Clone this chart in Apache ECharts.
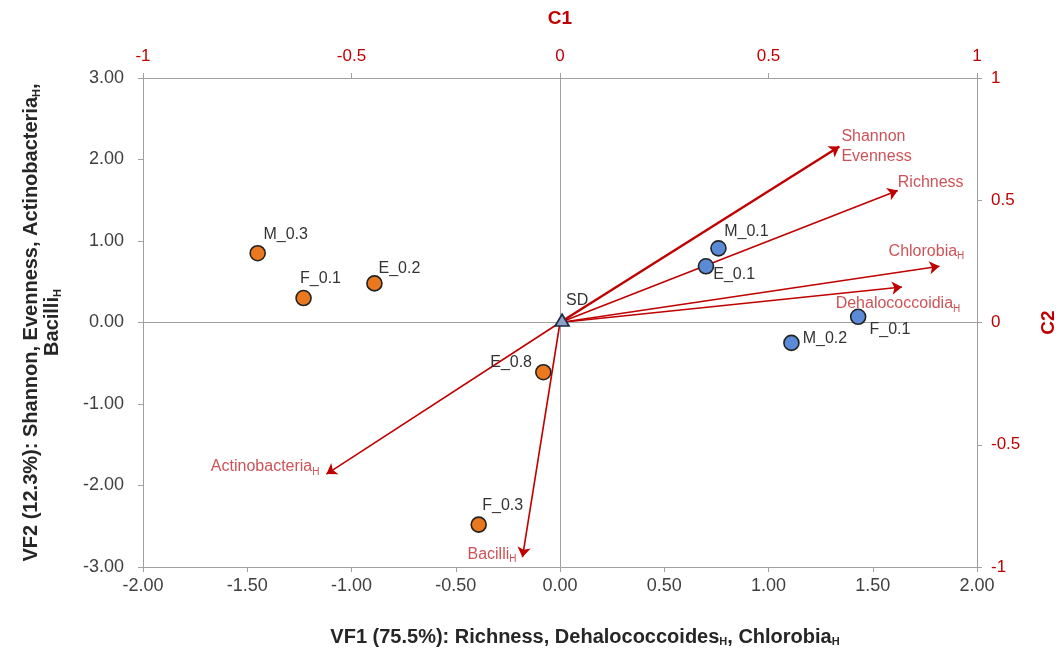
<!DOCTYPE html>
<html>
<head>
<meta charset="utf-8">
<script src="https://cdn.jsdelivr.net/npm/echarts@6/dist/echarts.min.js"></script>
<style>
  html, body { margin: 0; padding: 0; background: #fff; }
  #chart { width: 1061px; height: 655px; }
</style>
</head>
<body>
<div id="chart"></div>
<script>
// samples in VF1 / VF2 space
const orangeNames = ['M_0.3', 'F_0.1', 'E_0.2', 'E_0.8', 'F_0.3']
const orangeVF1 = [-1.45, -1.23, -0.89, -0.08, -0.39]
const orangeVF2 = [0.85, 0.30, 0.48, -0.61, -2.48]

const blueNames = ['M_0.1', 'E_0.1', 'M_0.2', 'F_0.1']
const blueVF1 = [0.76, 0.70, 1.11, 1.43]
const blueVF2 = [0.91, 0.69, -0.25, 0.07]

const sdName = 'SD'
const sdVF1 = 0.01
const sdVF2 = 0.03

// variable loadings in C1 / C2 space
const varNames = ['Shannon\nEvenness', 'Richness', 'Chlorobia{sub|H}', 'Dehalococcoidia{sub|H}', 'Actinobacteria{sub|H}', 'Bacilli{sub|H}']
const varC1 = [0.67, 0.81, 0.91, 0.82, -0.56, -0.09]
const varC2 = [0.72, 0.54, 0.23, 0.145, -0.62, -0.96]

const vfTicksX = [-2, 2, 0.5]
const vfTicksY = [-3, 3, 1]
const cTicks = [-1, 1, 0.5]

const FONT = '"Liberation Sans", Arial, sans-serif'
const RED = '#c00000'
const LABEL_RED = '#c0272d'

// label placement per point (style only)
const orangeLabelPos = [
    {position: 'top', offset: [28, 3]},
    {position: 'top', offset: [17, 2]},
    {position: 'top', offset: [25, 7]},
    {position: 'left', offset: [2, -10]},
    {position: 'top', offset: [24, 2]}
]
const blueLabelPos = [
    {position: 'top', offset: [28, 5]},
    {position: 'right', offset: [-6, 8]},
    {position: 'right', offset: [-2, -4]},
    {position: 'right', offset: [-2, 13]}
]
const varLabelPos = [
    {position: 'right', offset: [-2, 0]},
    {position: 'right', offset: [-4, -8]},
    {position: 'top', offset: [-13, -1]},
    {position: 'bottom', offset: [-4, 3]},
    {position: 'left', offset: [-3, -7]},
    {position: 'left', offset: [-2, -3]}
]
const varWidths = [2.4, 1.6, 1.6, 1.6, 1.6, 1.6]

const subRich = {
    sub: {fontSize: 10, verticalAlign: 'bottom', lineHeight: 16, fontFamily: FONT, color: LABEL_RED, padding: [5, 0, 0, 0]}
}

const buildPoints = (names, xs, ys, labelPos) => {
    return names.map((n, i) => ({
        value: [xs[i], ys[i]],
        name: n,
        label: {show: true, position: labelPos[i].position, offset: labelPos[i].offset}
    }))
}

const buildArrows = () => {
    return varNames.map((n, i) => ({
        coords: [[0, 0], [varC1[i], varC2[i]]],
        lineStyle: {width: varWidths[i]}
    }))
}

const buildArrowLabels = () => {
    return varNames.map((n, i) => ({
        value: [varC1[i], varC2[i]],
        name: n,
        label: {show: true, position: varLabelPos[i].position, offset: varLabelPos[i].offset, distance: 4}
    }))
}

const makeValueAxis = (range, extra) => {
    return Object.assign({
        type: 'value',
        min: range[0],
        max: range[1],
        interval: range[2],
        splitLine: {show: false},
        axisLine: {show: true, onZero: false, lineStyle: {color: '#a0a0a0', width: 1}},
        axisTick: {show: true, length: 5, lineStyle: {color: '#a0a0a0'}}
    }, extra)
}

const chart = echarts.init(document.getElementById('chart'))

const pointLabel = {color: '#333', fontSize: 16, fontFamily: FONT}
const titleSub = {fontSize: 11, fontWeight: 'bold', verticalAlign: 'bottom', padding: [7, 0, 0, 0], color: '#262626', fontFamily: FONT}

const option = {
    animation: false,
    backgroundColor: '#fff',
    textStyle: {fontFamily: FONT},
    grid: {left: 143, right: 84, top: 78, bottom: 88, containLabel: false, outerBoundsMode: 'none'},
    xAxis: [
        makeValueAxis(vfTicksX, {
            position: 'bottom',
            axisLabel: {color: '#404040', fontSize: 18, fontFamily: FONT, margin: 10,
                formatter: v => v.toFixed(2)},
            name: 'VF1 (75.5%): Richness, Dehalococcoides{s|H}, Chlorobia{s|H}',
            nameLocation: 'middle',
            nameGap: 60,
            nameTextStyle: {color: '#262626', fontSize: 20, fontWeight: 'bold', fontFamily: FONT,
                padding: [0, 0, 0, 50], rich: {s: titleSub}}
        }),
        makeValueAxis(cTicks, {
            position: 'top',
            axisLabel: {color: RED, fontSize: 17, fontFamily: FONT, margin: 13},
            name: 'C1',
            nameLocation: 'middle',
            nameGap: 50,
            nameTextStyle: {color: RED, fontSize: 19, fontWeight: 'bold', fontFamily: FONT}
        })
    ],
    yAxis: [
        makeValueAxis(vfTicksY, {
            position: 'left',
            axisLabel: {color: '#404040', fontSize: 18, fontFamily: FONT, margin: 19,
                formatter: v => v.toFixed(2)},
            name: 'VF2 (12.3%): Shannon, Evenness, Actinobacteria{s|H},\nBacilli{s|H}',
            nameLocation: 'middle',
            nameGap: 80,
            nameRotate: 90,
            nameTextStyle: {color: '#262626', fontSize: 20, fontWeight: 'bold', fontFamily: FONT, lineHeight: 21, align: 'center',
                rich: {s: titleSub}}
        }),
        makeValueAxis(cTicks, {
            position: 'right',
            axisLabel: {color: RED, fontSize: 17, fontFamily: FONT, margin: 14},
            name: 'C2',
            nameLocation: 'middle',
            nameGap: 62,
            nameRotate: 90,
            nameTextStyle: {color: RED, fontSize: 19, fontWeight: 'bold', fontFamily: FONT}
        })
    ],
    series: [
        {
            // zero lines
            type: 'scatter',
            xAxisIndex: 0,
            yAxisIndex: 0,
            data: [],
            silent: true,
            markLine: {
                silent: true,
                symbol: ['none', 'none'],
                label: {show: false},
                lineStyle: {color: '#a0a0a0', width: 1, type: 'solid'},
                data: [{xAxis: 0}, {yAxis: 0}]
            }
        },
        {
            type: 'lines',
            coordinateSystem: 'cartesian2d',
            xAxisIndex: 1,
            yAxisIndex: 1,
            symbol: ['none', 'arrow'],
            symbolSize: 10,
            lineStyle: {color: RED, opacity: 1, curveness: 0},
            z: 3,
            data: buildArrows()
        },
        {
            type: 'scatter',
            xAxisIndex: 1,
            yAxisIndex: 1,
            symbolSize: 0,
            z: 4,
            label: {color: LABEL_RED, fontSize: 16, fontFamily: FONT, lineHeight: 20, rich: subRich,
                formatter: p => p.name},
            data: buildArrowLabels()
        },
        {
            type: 'scatter',
            xAxisIndex: 0,
            yAxisIndex: 0,
            symbol: 'circle',
            symbolSize: 15,
            z: 5,
            itemStyle: {color: '#e9781f', borderColor: '#222', borderWidth: 1.6, opacity: 1},
            label: Object.assign({formatter: p => p.name}, pointLabel),
            data: buildPoints(orangeNames, orangeVF1, orangeVF2, orangeLabelPos)
        },
        {
            type: 'scatter',
            xAxisIndex: 0,
            yAxisIndex: 0,
            symbol: 'circle',
            symbolSize: 15,
            z: 5,
            itemStyle: {color: '#5b8bd6', borderColor: '#222', borderWidth: 1.6, opacity: 1},
            label: Object.assign({formatter: p => p.name}, pointLabel),
            data: buildPoints(blueNames, blueVF1, blueVF2, blueLabelPos)
        },
        {
            type: 'scatter',
            xAxisIndex: 0,
            yAxisIndex: 0,
            symbol: 'triangle',
            symbolSize: [14, 12],
            z: 6,
            itemStyle: {color: '#8da0c8', borderColor: '#1f2a44', borderWidth: 1.6, opacity: 1},
            label: Object.assign({formatter: p => p.name}, pointLabel),
            data: [{value: [sdVF1, sdVF2], name: sdName, label: {show: true, position: 'top', offset: [15, 0]}}]
        }
    ]
}

chart.setOption(option)
</script>
</body>
</html>
